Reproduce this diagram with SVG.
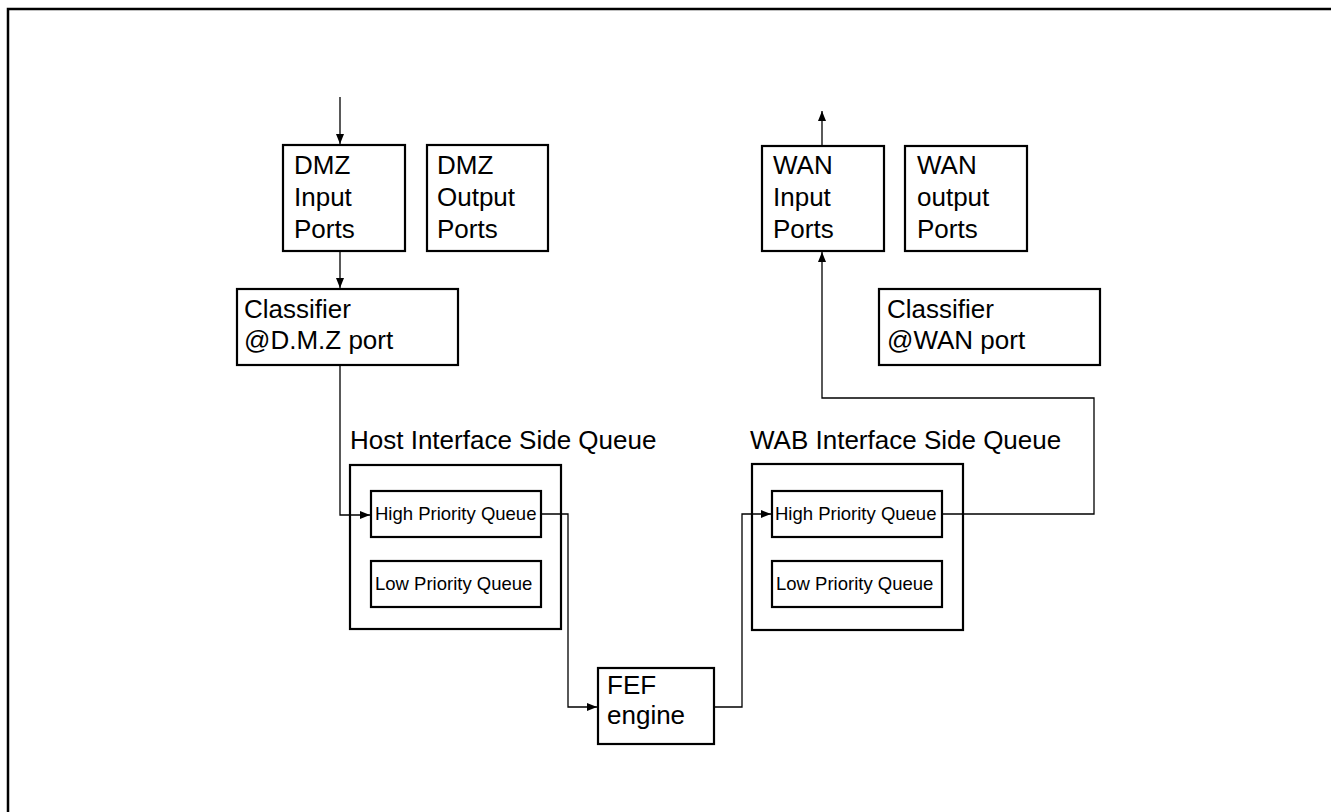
<svg xmlns="http://www.w3.org/2000/svg" width="1331" height="812" viewBox="0 0 1331 812">
<style>
.box{fill:#fff;stroke:#000;stroke-width:2.2}
.t{font-family:"Liberation Sans",Arial,sans-serif;font-size:26px;fill:#000}
.s{font-family:"Liberation Sans",Arial,sans-serif;font-size:18.5px;fill:#000}
.c{fill:none;stroke:#000;stroke-width:1.3}
</style>
<defs>
<marker id="ah" viewBox="0 0 10 8" refX="10" refY="4" markerWidth="10" markerHeight="8" markerUnits="userSpaceOnUse" orient="auto">
<path d="M0,0 L10,4 L0,8 Z" fill="#000"/>
</marker>
</defs>
<rect x="8" y="9" width="1340" height="820" fill="#fff" stroke="#000" stroke-width="2.5"/>
<g id="dmz-input">
<rect class="box" x="283" y="145" width="122" height="106"/>
<text class="t" x="294" y="174">DMZ</text>
<text class="t" x="294" y="206">Input</text>
<text class="t" x="294" y="238">Ports</text>
</g>
<g id="dmz-output">
<rect class="box" x="427" y="145" width="121" height="106"/>
<text class="t" x="437" y="174">DMZ</text>
<text class="t" x="437" y="206">Output</text>
<text class="t" x="437" y="238">Ports</text>
</g>
<g id="classifier-dmz">
<rect class="box" x="237" y="289" width="221" height="76"/>
<text class="t" x="244" y="318">Classifier</text>
<text class="t" x="244" y="349">@D.M.Z port</text>
</g>
<g id="wan-input">
<rect class="box" x="762" y="146" width="122" height="105"/>
<text class="t" x="773" y="174">WAN</text>
<text class="t" x="773" y="206">Input</text>
<text class="t" x="773" y="238">Ports</text>
</g>
<g id="wan-output">
<rect class="box" x="905" y="146" width="122" height="105"/>
<text class="t" x="917" y="174">WAN</text>
<text class="t" x="917" y="206">output</text>
<text class="t" x="917" y="238">Ports</text>
</g>
<g id="classifier-wan">
<rect class="box" x="879" y="289" width="221" height="76"/>
<text class="t" x="887" y="318">Classifier</text>
<text class="t" x="887" y="349">@WAN port</text>
</g>
<g id="host-queue">
<text class="t" x="350" y="449">Host Interface Side Queue</text>
<rect class="box" x="350" y="465" width="211" height="164"/>
<g id="host-high">
<rect class="box" x="371" y="491" width="170" height="46"/>
<text class="s" x="375" y="520">High Priority Queue</text>
</g>
<g id="host-low">
<rect class="box" x="371" y="561" width="170" height="46"/>
<text class="s" x="375" y="590">Low Priority Queue</text>
</g>
</g>
<g id="wab-queue">
<text class="t" x="750" y="449">WAB Interface Side Queue</text>
<rect class="box" x="752" y="464" width="211" height="166"/>
<g id="wab-high">
<rect class="box" x="772" y="491" width="170" height="46"/>
<text class="s" x="775" y="520">High Priority Queue</text>
</g>
<g id="wab-low">
<rect class="box" x="772" y="561" width="170" height="46"/>
<text class="s" x="776" y="590">Low Priority Queue</text>
</g>
</g>
<g id="fef">
<rect class="box" x="598" y="668" width="116" height="76"/>
<text class="t" x="607" y="694">FEF</text>
<text class="t" x="607" y="724">engine</text>
</g>
<g id="connectors">
<path class="c" d="M340,97 L340,144" marker-end="url(#ah)"/>
<path class="c" d="M340,251 L340,288" marker-end="url(#ah)"/>
<path class="c" d="M340,365 L340,515 L370,515" marker-end="url(#ah)"/>
<path class="c" d="M541,514 L568,514 L568,707 L597,707" marker-end="url(#ah)"/>
<path class="c" d="M714,707 L742,707 L742,514 L771,514" marker-end="url(#ah)"/>
<path class="c" d="M942,514 L1094,514 L1094,398 L822,398 L822,252" marker-end="url(#ah)"/>
<path class="c" d="M822,145 L822,111" marker-end="url(#ah)"/>
</g>
</svg>
